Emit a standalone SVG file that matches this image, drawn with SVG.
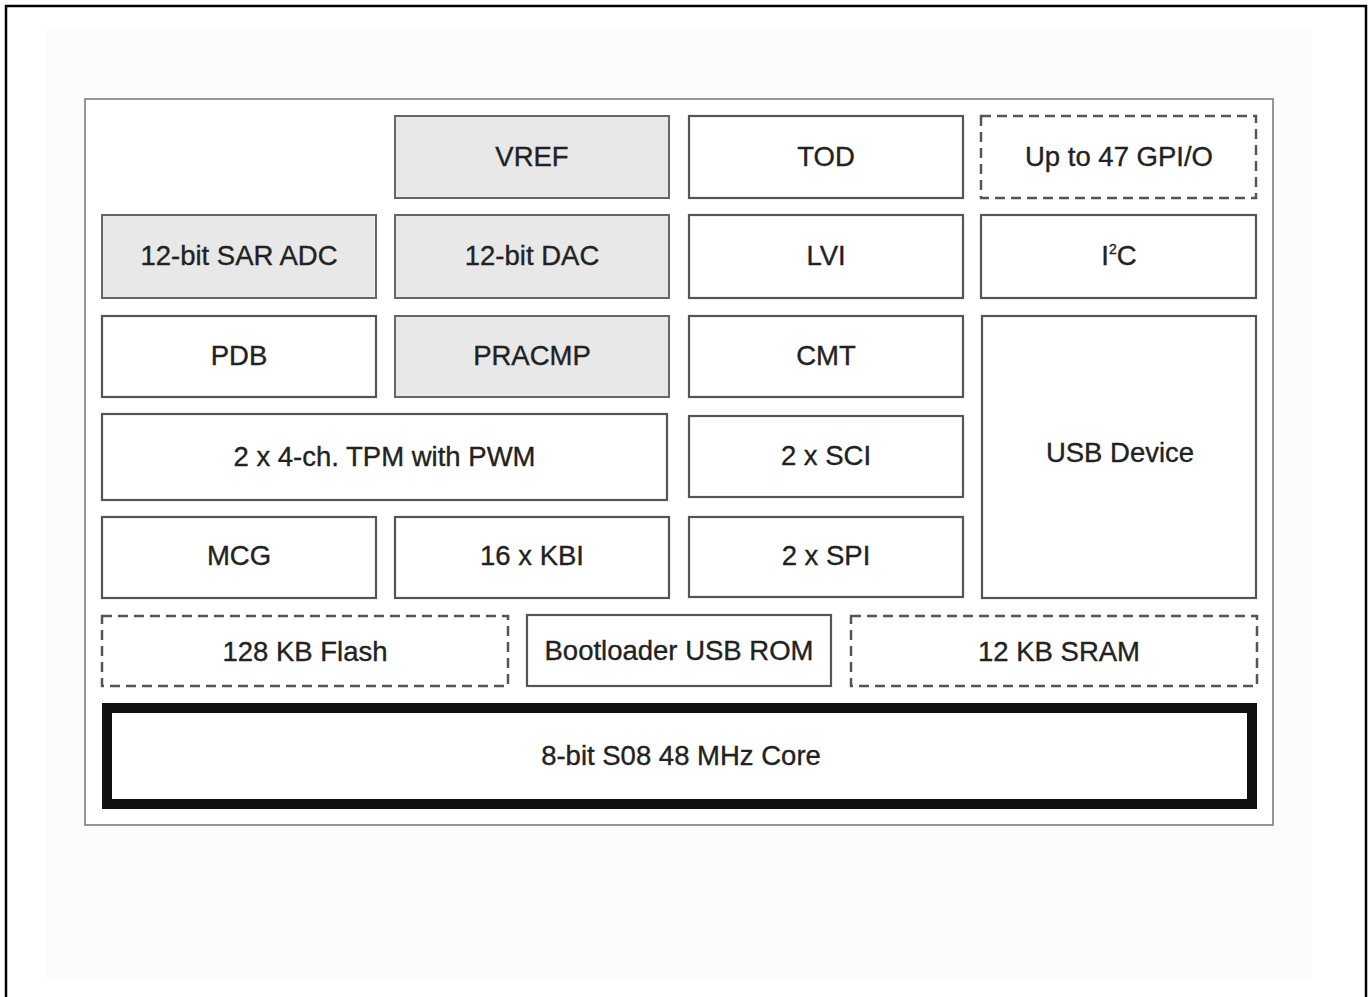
<svg xmlns="http://www.w3.org/2000/svg" width="1369" height="997" viewBox="0 0 1369 997">
<style>
.box{fill:#ffffff;stroke:#555555;stroke-width:2.2}
.gray{fill:#e8e8e8;stroke:#666666;stroke-width:2}
.dash{fill:#ffffff;stroke:#555555;stroke-width:2.5;stroke-dasharray:10 6}
.core{fill:#ffffff;stroke:#111111;stroke-width:10}
.lbl{font-family:"Liberation Sans",Arial,Helvetica,sans-serif;font-size:27.5px;fill:#222222;stroke:#222222;stroke-width:0.35;text-anchor:middle}
</style>
<rect x="0" y="0" width="1369" height="997" fill="#ffffff"/>
<rect x="46" y="30" width="1266" height="952" fill="#fcfcfc"/>
<rect x="6" y="6" width="1360" height="1010" fill="none" stroke="#000000" stroke-width="2.5"/>
<rect x="85" y="99" width="1188" height="726" fill="#ffffff" stroke="#8a8a8a" stroke-width="1.8"/>
<g id="connectors"></g>
<g id="vref"><rect class="gray" x="395" y="116" width="274" height="82"/><text class="lbl" x="532" y="165.5">VREF</text></g>
<g id="tod"><rect class="box" x="689" y="116" width="274" height="82"/><text class="lbl" x="826" y="165.5">TOD</text></g>
<g id="gpio"><rect class="dash" x="981" y="116" width="275" height="82"/><text class="lbl" x="1119" y="165.5">Up to 47 GPI/O</text></g>
<g id="adc"><rect class="gray" x="102" y="215" width="274" height="83"/><text class="lbl" x="239" y="265">12-bit SAR ADC</text></g>
<g id="dac"><rect class="gray" x="395" y="215" width="274" height="83"/><text class="lbl" x="532" y="265">12-bit DAC</text></g>
<g id="lvi"><rect class="box" x="689" y="215" width="274" height="83"/><text class="lbl" x="826" y="265">LVI</text></g>
<g id="i2c"><rect class="box" x="981" y="215" width="275" height="83"/><text class="lbl" x="1119" y="265">I<tspan font-size="14" dy="-11">2</tspan><tspan dy="11">C</tspan></text></g>
<g id="pdb"><rect class="box" x="102" y="316" width="274" height="81"/><text class="lbl" x="239" y="365">PDB</text></g>
<g id="pracmp"><rect class="gray" x="395" y="316" width="274" height="81"/><text class="lbl" x="532" y="365">PRACMP</text></g>
<g id="cmt"><rect class="box" x="689" y="316" width="274" height="81"/><text class="lbl" x="826" y="365">CMT</text></g>
<g id="usb"><rect class="box" x="982" y="316" width="274" height="282"/><text class="lbl" x="1120" y="462">USB Device</text></g>
<g id="tpm"><rect class="box" x="102" y="414" width="565" height="86"/><text class="lbl" x="384.5" y="466">2 x 4-ch. TPM with PWM</text></g>
<g id="sci"><rect class="box" x="689" y="416" width="274" height="81"/><text class="lbl" x="826" y="465">2 x SCI</text></g>
<g id="mcg"><rect class="box" x="102" y="517" width="274" height="81"/><text class="lbl" x="239" y="565">MCG</text></g>
<g id="kbi"><rect class="box" x="395" y="517" width="274" height="81"/><text class="lbl" x="532" y="565">16 x KBI</text></g>
<g id="spi"><rect class="box" x="689" y="517" width="274" height="80"/><text class="lbl" x="826" y="565">2 x SPI</text></g>
<g id="flash"><rect class="dash" x="102" y="616" width="406" height="70"/><text class="lbl" x="305" y="660.5">128 KB Flash</text></g>
<g id="bootrom"><rect class="box" x="527" y="615" width="304" height="71"/><text class="lbl" x="679" y="660">Bootloader USB ROM</text></g>
<g id="sram"><rect class="dash" x="851" y="616" width="406" height="70"/><text class="lbl" x="1059" y="660.5">12 KB SRAM</text></g>
<g id="core"><rect class="core" x="107" y="708" width="1145" height="96"/><text class="lbl" x="681" y="764.5">8-bit S08 48 MHz Core</text></g>
</svg>
